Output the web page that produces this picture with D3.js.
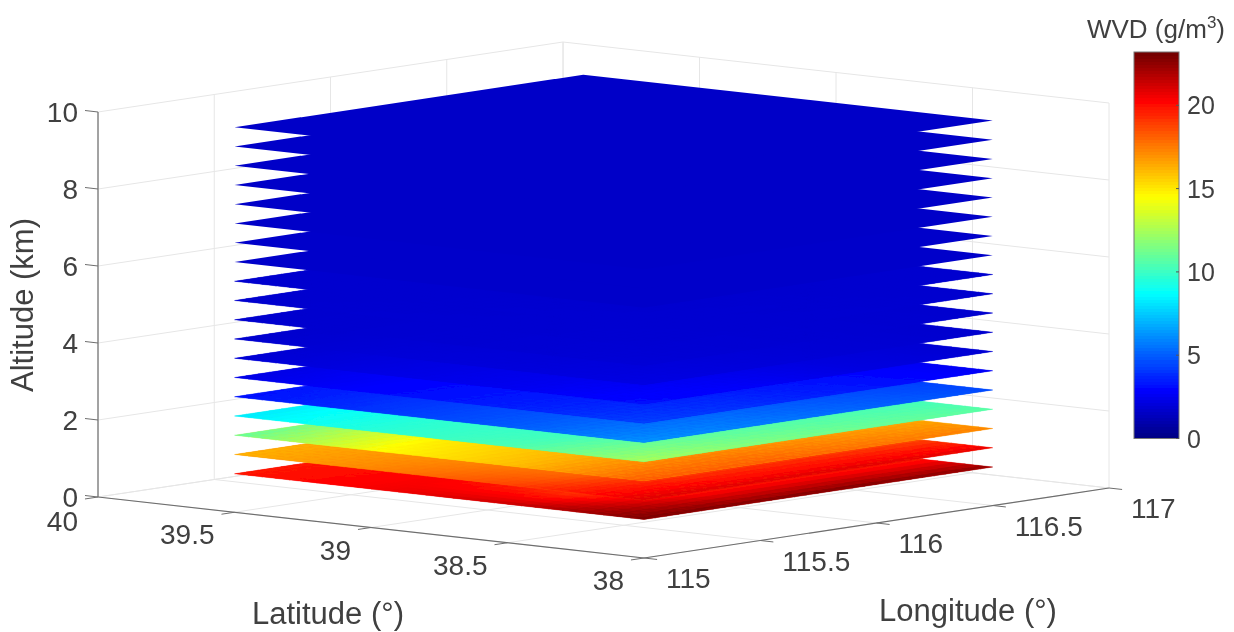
<!DOCTYPE html>
<html>
<head>
<meta charset="utf-8">
<script src="https://cdn.jsdelivr.net/npm/d3@7"></script>
<style>
html, body { margin: 0; padding: 0; background: #fff; }
text { font-family: "Liberation Sans", Arial, sans-serif; fill: #404040; }
</style>
</head>
<body>
<div id="chart"></div>
<script>
var latTicks = [40, 39.5, 39, 38.5, 38];
var lonTicks = [115, 115.5, 116, 116.5, 117];
var altTicks = [0, 2, 4, 6, 8, 10];
var barTicks = [0, 5, 10, 15, 20];
var wvdMax = 23.2;

// measured grid of each sheet
var gridLats = [38, 38.5, 39, 39.5];
var gridLons = [115, 115.5, 116, 116.5];
var altitudes = [1, 1.5, 2, 2.5, 3, 3.5, 4, 4.5, 5, 5.5, 6, 6.5, 7, 7.5, 8, 8.5, 9, 9.5, 10];

// one row per altitude, each with gridLats x gridLons values (g/m3)
var wvd = [
  [[23, 23, 23, 22.6], [21.5, 17.5, 17.5, 17.5], [20.5, 20.3, 20, 19.5], [19.8, 19.8, 19.5, 19.5]],
  [[21, 21, 21, 20.8], [18.8, 17.5, 17.5, 17], [17.3, 17, 16.8, 16.5], [16.2, 16.5, 16.5, 16.3]],
  [[18.3, 18.2, 17.8, 17.3], [16, 16.5, 16.2, 16], [14.4, 15.2, 15, 14.5], [10.9, 11.8, 13, 13]],
  [[12.6, 11.8, 11.2, 10.8], [10.5, 10, 10, 9.8], [9.6, 9.8, 9.5, 9.3], [8.2, 8.5, 8.6, 8.6]],
  [[6.3, 5.8, 5.2, 4.6], [5, 5, 4.5, 4.2], [4.1, 4.2, 4, 3.8], [3.2, 3.4, 3.5, 3.5]],
  [[4.4, 4, 3.4, 2.7], [3.6, 3.5, 3.1, 2.6], [3, 3, 2.8, 2.5], [2.3, 2.4, 2.4, 2.3]],
  [[3.2, 2.8, 2.2, 1.9], [2.6, 2.5, 2.1, 1.9], [2.3, 2.2, 2, 1.9], [1.9, 1.9, 1.9, 1.8]],
  [[2.3, 2.1, 1.9, 1.8], [2.1, 2, 1.9, 1.8], [2, 1.9, 1.9, 1.8], [1.8, 1.8, 1.8, 1.8]],
  [[2, 1.9, 1.85, 1.8], [1.9, 1.9, 1.85, 1.8], [1.85, 1.85, 1.8, 1.8], [1.8, 1.8, 1.8, 1.8]],
  [[1.9, 1.85, 1.85, 1.8], [1.85, 1.85, 1.8, 1.8], [1.85, 1.8, 1.8, 1.8], [1.8, 1.8, 1.8, 1.8]],
  [[1.85, 1.85, 1.8, 1.8], [1.85, 1.8, 1.8, 1.8], [1.8, 1.8, 1.8, 1.8], [1.8, 1.8, 1.8, 1.8]],
  [[1.7, 1.7, 1.7, 1.7], [1.7, 1.7, 1.7, 1.7], [1.7, 1.7, 1.7, 1.7], [1.7, 1.7, 1.7, 1.7]],
  [[1.7, 1.7, 1.7, 1.7], [1.7, 1.7, 1.7, 1.7], [1.7, 1.7, 1.7, 1.7], [1.7, 1.7, 1.7, 1.7]],
  [[1.65, 1.65, 1.65, 1.65], [1.65, 1.65, 1.65, 1.65], [1.65, 1.65, 1.65, 1.65], [1.65, 1.65, 1.65, 1.65]],
  [[1.65, 1.65, 1.65, 1.65], [1.65, 1.65, 1.65, 1.65], [1.65, 1.65, 1.65, 1.65], [1.65, 1.65, 1.65, 1.65]],
  [[1.65, 1.65, 1.65, 1.65], [1.65, 1.65, 1.65, 1.65], [1.65, 1.65, 1.65, 1.65], [1.65, 1.65, 1.65, 1.65]],
  [[1.65, 1.65, 1.65, 1.65], [1.65, 1.65, 1.65, 1.65], [1.65, 1.65, 1.65, 1.65], [1.65, 1.65, 1.65, 1.65]],
  [[1.65, 1.65, 1.65, 1.65], [1.65, 1.65, 1.65, 1.65], [1.65, 1.65, 1.65, 1.65], [1.65, 1.65, 1.65, 1.65]],
  [[1.65, 1.65, 1.65, 1.65], [1.65, 1.65, 1.65, 1.65], [1.65, 1.65, 1.65, 1.65], [1.65, 1.65, 1.65, 1.65]]
];

var width = 1234, height = 632;

var svg = d3.select("#chart").append("svg")
    .attr("width", width)
    .attr("height", height)
    .style("display", "block");

svg.append("defs").append("filter")
    .attr("id", "soft")
    .append("feGaussianBlur")
    .attr("stdDeviation", 0.45);

var root = svg.append("g").attr("filter", "url(#soft)");

// jet colour map
var jet = d3.scaleLinear()
    .domain([0, 0.125, 0.375, 0.625, 0.875, 1].map(function(t) { return t * wvdMax; }))
    .range(["#000080", "#0000ff", "#00ffff", "#ffff00", "#ff0000", "#700000"])
    .clamp(true);

// oblique view: each axis adds its own screen offset to the front floor corner
var frontX = 644, frontY = 558;
var latX = d3.scaleLinear().domain([38, 40]).range([0, -546]);
var latY = d3.scaleLinear().domain([38, 40]).range([0, -61]);
var lonX = d3.scaleLinear().domain([115, 117]).range([0, 465]);
var lonY = d3.scaleLinear().domain([115, 117]).range([0, -70]);
var altY = d3.scaleLinear().domain([0, 10]).range([0, -385]);

function project(lat, lon, alt) {
    return [frontX + latX(lat) + lonX(lon), frontY + latY(lat) + lonY(lon) + altY(alt)];
}

function addLine(p, q, color, w) {
    root.append("line")
        .attr("x1", p[0]).attr("y1", p[1])
        .attr("x2", q[0]).attr("y2", q[1])
        .style("stroke", color)
        .style("stroke-width", w);
}

var gridColor = "#e6e6e6", axisColor = "#6e6e6e";

// grid on the floor and the two back walls
latTicks.forEach(function(lat) {
    addLine(project(lat, 115, 0), project(lat, 117, 0), gridColor, 1);
    addLine(project(lat, 117, 0), project(lat, 117, 10), gridColor, 1);
});
lonTicks.forEach(function(lon) {
    addLine(project(38, lon, 0), project(40, lon, 0), gridColor, 1);
    addLine(project(40, lon, 0), project(40, lon, 10), gridColor, 1);
});
altTicks.forEach(function(alt) {
    addLine(project(40, 115, alt), project(40, 117, alt), gridColor, 1);
    addLine(project(40, 117, alt), project(38, 117, alt), gridColor, 1);
});

// colour at a point of a sheet, bilinear between the measured grid values
function sample(rows, lat, lon) {
    var i = Math.min(d3.bisectRight(gridLats, lat) - 1, gridLats.length - 2);
    var j = Math.min(d3.bisectRight(gridLons, lon) - 1, gridLons.length - 2);
    var s = (lat - gridLats[i]) / (gridLats[i + 1] - gridLats[i]);
    var t = (lon - gridLons[j]) / (gridLons[j + 1] - gridLons[j]);
    return (rows[i][j] * (1 - s) + rows[i + 1][j] * s) * (1 - t)
         + (rows[i][j + 1] * (1 - s) + rows[i + 1][j + 1] * s) * t;
}

// sheets, lowest first so the upper ones cover them
var toPath = d3.line();
var latSpan = gridLats[3] - gridLats[0], lonSpan = gridLons[3] - gridLons[0];

altitudes.forEach(function(alt, k) {
    var sheet = root.append("g").attr("class", "sheet");

    // solid base so that the seams between cells do not show what is underneath
    sheet.append("path")
        .attr("d", toPath([
            project(gridLats[0], gridLons[0], alt),
            project(gridLats[3], gridLons[0], alt),
            project(gridLats[3], gridLons[3], alt),
            project(gridLats[0], gridLons[3], alt)
        ]) + "Z")
        .style("fill", jet(d3.mean(d3.merge(wvd[k]))));

    // a flat sheet needs no cells
    if (d3.max(d3.merge(wvd[k])) - d3.min(d3.merge(wvd[k])) < 0.01) return;

    var steps = 30;
    var stepLat = latSpan / steps, stepLon = lonSpan / steps;
    var cells = [];
    d3.range(steps).forEach(function(a) {
        d3.range(steps).forEach(function(b) {
            cells.push({ lat: gridLats[0] + a * stepLat, lon: gridLons[0] + b * stepLon });
        });
    });
    sheet.selectAll("path.cell")
        .data(cells)
        .enter()
        .append("path")
        .attr("class", "cell")
        .attr("d", function(d) {
            return toPath([
                project(d.lat, d.lon, alt),
                project(d.lat + stepLat, d.lon, alt),
                project(d.lat + stepLat, d.lon + stepLon, alt),
                project(d.lat, d.lon + stepLon, alt)
            ]) + "Z";
        })
        .each(function(d) {
            var c = jet(sample(wvd[k], d.lat + stepLat / 2, d.lon + stepLon / 2));
            d3.select(this)
                .style("fill", c)
                .style("stroke", c)
                .style("stroke-width", 0.4)
                .style("stroke-linejoin", "bevel");
        });
});

// axes
addLine(project(40, 115, 0), project(40, 115, 10), axisColor, 1.2);
addLine(project(40, 115, 0), project(38, 115, 0), axisColor, 1.2);
addLine(project(38, 115, 0), project(38, 117, 0), axisColor, 1.2);

var tickFont = 28;
var latTickOut = 0.056, lonTickOut = 0.048;

altTicks.forEach(function(alt) {
    var p = project(40, 115, alt);
    addLine(p, [p[0] - 13, p[1] - 1.5], axisColor, 1);
    root.append("text")
        .attr("x", p[0] - 20)
        .attr("y", p[1] + 10)
        .attr("text-anchor", "end")
        .style("font-size", tickFont + "px")
        .text(alt);
});

latTicks.forEach(function(lat) {
    var p = project(lat, 115, 0);
    addLine(p, project(lat, 115 - latTickOut, 0), axisColor, 1);
    root.append("text")
        .attr("x", p[0] - 20)
        .attr("y", p[1] + (lat === 40 ? 34 : 32))
        .attr("text-anchor", "end")
        .style("font-size", tickFont + "px")
        .text(lat);
});

lonTicks.forEach(function(lon) {
    var p = project(38, lon, 0);
    addLine(p, project(38 - lonTickOut, lon, 0), axisColor, 1);
    root.append("text")
        .attr("x", p[0] + 22)
        .attr("y", p[1] + 30)
        .attr("text-anchor", "start")
        .style("font-size", tickFont + "px")
        .text(lon);
});

root.append("text")
    .attr("transform", "translate(33,305) rotate(-90)")
    .attr("text-anchor", "middle")
    .style("font-size", "31px")
    .text("Altitude (km)");

root.append("text")
    .attr("x", 328).attr("y", 624)
    .attr("text-anchor", "middle")
    .style("font-size", "31px")
    .text("Latitude (°)");

root.append("text")
    .attr("x", 968).attr("y", 621)
    .attr("text-anchor", "middle")
    .style("font-size", "31px")
    .text("Longitude (°)");

// colour bar
var barX = 1134, barW = 45;
var barY = d3.scaleLinear().domain([0, wvdMax]).range([438.5, 52]);
var levels = d3.range(128);

root.append("g").selectAll("rect")
    .data(levels)
    .enter()
    .append("rect")
    .attr("x", barX)
    .attr("width", barW)
    .attr("y", function(d) { return barY((d + 1) / 128 * wvdMax); })
    .attr("height", function(d) { return barY(d / 128 * wvdMax) - barY((d + 1) / 128 * wvdMax) + 0.5; })
    .style("shape-rendering", "crispEdges")
    .style("fill", function(d) { return jet((d + 0.5) / 128 * wvdMax); });

root.append("rect")
    .attr("x", barX).attr("y", barY(wvdMax))
    .attr("width", barW).attr("height", barY(0) - barY(wvdMax))
    .style("fill", "none")
    .style("stroke", "#777")
    .style("stroke-width", 1);

barTicks.forEach(function(v) {
    addLine([barX + barW - 3, barY(v)], [barX + barW, barY(v)], "#555", 1);
    root.append("text")
        .attr("x", 1187)
        .attr("y", barY(v) + 9)
        .style("font-size", "25px")
        .text(v);
});

var title = root.append("text")
    .attr("x", 1156).attr("y", 38)
    .attr("text-anchor", "middle")
    .style("font-size", "26px");
title.append("tspan").text("WVD (g/m");
title.append("tspan").attr("dy", -10).style("font-size", "17px").text("3");
title.append("tspan").attr("dy", 10).text(")");
</script>
</body>
</html>
